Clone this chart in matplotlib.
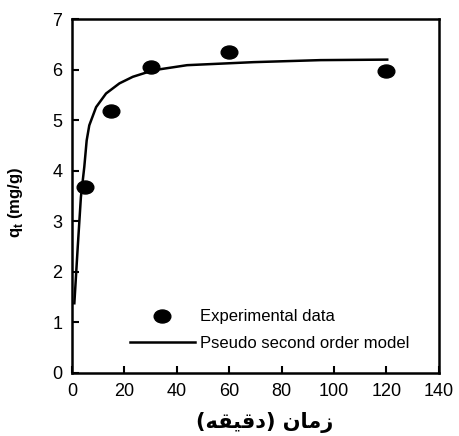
import matplotlib
matplotlib.use("Agg")
import matplotlib.pyplot as plt
from matplotlib.path import Path

# experimental data
t_exp = [5, 15, 30, 60, 120]
q_exp = [3.68, 5.18, 6.05, 6.35, 5.97]

# pseudo second order model curve
t_fit = [0.9, 2.2, 3.4, 4.7, 5.6, 6.6, 9.2, 13, 18.1, 23.2, 31.1, 43.9, 69.3, 94.8, 120.3]
q_fit = [1.38, 2.5, 3.48, 4.08, 4.6, 4.9, 5.26, 5.53, 5.73, 5.86, 5.99, 6.09, 6.15, 6.19, 6.2]

xticks = [0, 20, 40, 60, 80, 100, 120, 140]
yticks = [0, 1, 2, 3, 4, 5, 6, 7]

# Persian label written in presentation forms, visual order
xlabel = "(\ufeea\ufed8\ufbff\ufed7\ufea9) \ufee5\ufe8e\ufee3\ufeaf"

plt.rcParams["font.family"] = ["Liberation Sans", "DejaVu Sans"]

# slightly flattened dot, like the scanned figure
circ = Path.unit_circle()
oval = Path(circ.vertices * [1.0, 0.78], circ.codes)

fig = plt.figure(figsize=(4.6, 4.36), dpi=100)
ax = fig.add_axes([0.1565, 0.1445, 0.7975, 0.8115])

ax.plot(t_exp, q_exp, ls="none", marker=oval, color="black", ms=12, label="Experimental data")
ax.plot(t_fit, q_fit, "-", color="black", lw=1.8, label="Pseudo second order model")

ax.set_xlim(0, 140)
ax.set_ylim(0, 7)
ax.set_xticks(xticks)
ax.set_yticks(yticks)
ax.tick_params(direction="in", length=5, width=1.5, labelsize=13, pad=7)
for s in ax.spines.values():
    s.set_linewidth(1.8)

ax.set_ylabel("q$_\\mathregular{t}$ (mg/g)", fontsize=12, fontweight="bold")
ax.yaxis.set_label_coords(-0.128, 0.483)
ax.set_xlabel(xlabel, fontsize=15, fontweight="bold", family=["DejaVu Sans"])
ax.xaxis.set_label_coords(0.526, -0.11)

ax.legend(loc="lower left", bbox_to_anchor=(0.158, 0.062), frameon=False, fontsize=12,
          handlelength=3.9, handletextpad=0.3, labelspacing=0.7, borderpad=0, borderaxespad=0)

fig.savefig("out.png", dpi=100)
